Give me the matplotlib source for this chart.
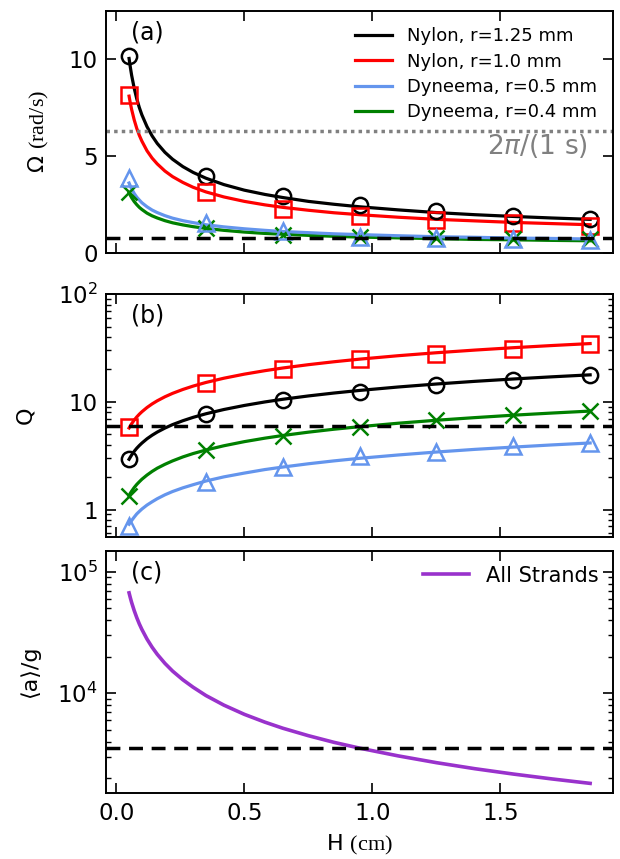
import numpy as np
import matplotlib
matplotlib.use('Agg')
import matplotlib.pyplot as plt

plt.rcParams['font.family'] = ['DejaVu Sans', 'Noto Sans', 'Noto Sans CJK SC']
plt.rcParams['mathtext.fontset'] = 'custom'
plt.rcParams['mathtext.rm'] = 'Liberation Serif'
plt.rcParams['mathtext.it'] = 'DejaVu Sans:italic'
plt.rcParams['mathtext.bf'] = 'DejaVu Sans:bold'

# measured points
H = [0.05, 0.35, 0.65, 0.95, 1.25, 1.55, 1.85]

omega_ny125 = [10.17, 3.94, 2.94, 2.47, 2.13, 1.87, 1.73]
omega_ny10 = [8.18, 3.11, 2.25, 1.87, 1.66, 1.52, 1.35]
omega_dy05 = [3.86, 1.52, 1.09, 0.83, 0.75, 0.68, 0.64]
omega_dy04 = [3.11, 1.26, 0.92, 0.78, 0.74, 0.70, 0.68]

Q_ny125 = [2.94, 7.7, 10.4, 12.4, 14.3, 16.1, 17.7]
Q_ny10 = [5.8, 15.0, 20.2, 24.8, 28.1, 31.3, 34.3]
Q_dy05 = [0.71, 1.81, 2.46, 3.16, 3.43, 3.90, 4.16]
Q_dy04 = [1.34, 3.56, 4.83, 5.86, 6.76, 7.53, 8.26]

# fitted curves
H_fit = [0.05, 0.055, 0.06, 0.07, 0.08, 0.09, 0.10, 0.12, 0.14, 0.16,
         0.19, 0.22, 0.26, 0.30, 0.35, 0.42, 0.5, 0.58, 0.65, 0.75,
         0.85, 0.95, 1.1, 1.25, 1.4, 1.55, 1.7, 1.85]

omega_fit_ny125 = [10.05, 9.59, 9.18, 8.51, 7.96, 7.51, 7.13, 6.52, 6.04, 5.65,
                   5.19, 4.83, 4.45, 4.15, 3.85, 3.52, 3.23, 3.01, 2.85, 2.65,
                   2.50, 2.37, 2.21, 2.07, 1.96, 1.87, 1.79, 1.72]
omega_fit_ny10 = [8.10, 7.73, 7.41, 6.87, 6.43, 6.07, 5.77, 5.27, 4.89, 4.59,
                  4.22, 3.93, 3.63, 3.38, 3.14, 2.88, 2.65, 2.47, 2.34, 2.19,
                  2.06, 1.96, 1.83, 1.72, 1.64, 1.56, 1.50, 1.44]
omega_fit_dy05 = [3.60, 3.44, 3.30, 3.06, 2.87, 2.72, 2.58, 2.37, 2.20, 2.07,
                  1.91, 1.78, 1.65, 1.55, 1.44, 1.33, 1.23, 1.15, 1.09, 1.03,
                  0.97, 0.93, 0.87, 0.82, 0.79, 0.75, 0.73, 0.70]
omega_fit_dy04 = [3.10, 2.96, 2.84, 2.64, 2.48, 2.34, 2.23, 2.04, 1.90, 1.79,
                  1.65, 1.54, 1.43, 1.34, 1.25, 1.15, 1.06, 0.99, 0.95, 0.89,
                  0.84, 0.80, 0.76, 0.72, 0.68, 0.66, 0.63, 0.61]

Q_fit_ny125 = [2.93, 3.07, 3.21, 3.47, 3.71, 3.93, 4.14, 4.54, 4.90, 5.24,
               5.71, 6.15, 6.68, 7.18, 7.75, 8.49, 9.26, 9.98, 10.57, 11.35,
               12.08, 12.77, 13.74, 14.65, 15.51, 16.31, 17.08, 17.82]
Q_fit_ny10 = [5.72, 6.00, 6.26, 6.77, 7.24, 7.68, 8.09, 8.86, 9.57, 10.23,
              11.15, 12.0, 13.04, 14.01, 15.14, 16.58, 18.09, 19.48, 20.63, 22.15,
              23.58, 24.93, 26.83, 28.6, 30.27, 31.85, 33.35, 34.79]
Q_fit_dy05 = [0.73, 0.76, 0.79, 0.85, 0.91, 0.96, 1.01, 1.10, 1.18, 1.26,
              1.37, 1.47, 1.59, 1.70, 1.84, 2.01, 2.18, 2.35, 2.48, 2.66,
              2.83, 2.99, 3.21, 3.42, 3.62, 3.80, 3.98, 4.15]
Q_fit_dy04 = [1.35, 1.42, 1.48, 1.60, 1.71, 1.81, 1.91, 2.09, 2.26, 2.42,
              2.63, 2.83, 3.08, 3.31, 3.57, 3.91, 4.27, 4.60, 4.87, 5.23,
              5.57, 5.88, 6.33, 6.75, 7.14, 7.52, 7.87, 8.21]

accel_all = [67000, 60900, 55800, 47900, 41900, 37200, 33500, 27900, 23900, 20900,
             17600, 15200, 12900, 11200, 9570, 7980, 6700, 5780, 5150, 4470,
             3940, 3530, 3050, 2680, 2390, 2160, 1970, 1810]

omega_thresh = 0.75
omega_1s = 2 * np.pi
Q_thresh = 6.0
accel_thresh = 3530

labels = ['Nylon, r=1.25 mm', 'Nylon, r=1.0 mm', 'Dyneema, r=0.5 mm', 'Dyneema, r=0.4 mm']
colors = ['black', 'red', 'cornflowerblue', 'green']
markers = ['o', 's', '^', 'x']

fig = plt.figure(figsize=(6.2, 8.59), dpi=100)
ax1 = fig.add_axes([0.171, 0.706, 0.818, 0.281])
ax2 = fig.add_axes([0.171, 0.375, 0.818, 0.2825])
ax3 = fig.add_axes([0.171, 0.0765, 0.818, 0.282])

# (a) rotation rate
omega_pts = [omega_ny125, omega_ny10, omega_dy05, omega_dy04]
omega_fits = [omega_fit_ny125, omega_fit_ny10, omega_fit_dy05, omega_fit_dy04]
for i in [0, 1, 3, 2]:
    ax1.plot(H_fit, omega_fits[i], color=colors[i], lw=2.3, label=labels[i])
for i in [0, 1, 3, 2]:
    ax1.plot(H, omega_pts[i], ls='none', marker=markers[i], ms=11, mfc='none',
             mec=colors[i], mew=1.8)
ax1.axhline(omega_thresh, color='black', ls='--', lw=2.5, dashes=(4, 2.5))
ax1.axhline(omega_1s, color='gray', ls=':', lw=2.5, dashes=(1, 1.2))
ax1.text(1.84, 5.5, r'2$\pi$/(1 s)', color='gray', fontsize=19, ha='right', va='center')
h, l = ax1.get_legend_handles_labels()
order = [0, 1, 3, 2]
ax1.legend([h[j] for j in order], [l[j] for j in order], loc='upper right',
           frameon=False, fontsize=13, handlelength=2.1, labelspacing=0.4,
           borderaxespad=0.5)
ax1.set_ylim(0, 12.5)
ax1.set_yticks([0, 5, 10])
ax1.set_ylabel(r'Ω $\mathrm{(rad/s)}$', fontsize=16)
ax1.yaxis.set_label_coords(-0.108, 0.5)
ax1.text(0.05, 0.96, '(a)', transform=ax1.transAxes, fontsize=17, va='top')

# (b) quality factor
Q_pts = [Q_ny125, Q_ny10, Q_dy05, Q_dy04]
Q_fits = [Q_fit_ny125, Q_fit_ny10, Q_fit_dy05, Q_fit_dy04]
for i in range(4):
    ax2.plot(H_fit, Q_fits[i], color=colors[i], lw=2.3)
    ax2.plot(H, Q_pts[i], ls='none', marker=markers[i], ms=11, mfc='none',
             mec=colors[i], mew=1.8)
ax2.axhline(Q_thresh, color='black', ls='--', lw=2.5, dashes=(4, 2.5))
ax2.set_yscale('log')
ax2.set_ylim(0.557, 100)
ax2.set_yticks([1, 10, 100], labels=['1', '10', r'$\mathdefault{10^2}$'])
ax2.set_ylabel('Q', fontsize=16)
ax2.yaxis.set_label_coords(-0.14, 0.5)
ax2.text(0.05, 0.96, '(b)', transform=ax2.transAxes, fontsize=17, va='top')

# (c) mean acceleration
ax3.plot(H_fit, accel_all, color='darkorchid', lw=2.6, label='All Strands')
ax3.axhline(accel_thresh, color='black', ls='--', lw=2.5, dashes=(4, 2.5))
ax3.set_yscale('log')
ax3.set_ylim(1500, 1.48e5)
ax3.legend(loc='upper right', frameon=False, fontsize=15, handlelength=2.2,
           borderaxespad=0.3)
ax3.set_ylabel('⟨a⟩/g', fontsize=16)
ax3.yaxis.set_label_coords(-0.13, 0.5)
ax3.set_xlabel(r'H $\mathrm{(cm)}$', fontsize=16)
ax3.xaxis.set_label_coords(0.5, -0.165)
ax3.text(0.05, 0.96, '(c)', transform=ax3.transAxes, fontsize=17, va='top')

for ax in [ax1, ax2, ax3]:
    ax.set_xlim(-0.04, 1.94)
    ax.set_xticks([0.0, 0.5, 1.0, 1.5])
    ax.tick_params(which='both', direction='in', top=True, right=True,
                   labelsize=16.5, pad=6)
    ax.tick_params(which='major', length=7, width=1.2)
    ax.tick_params(which='minor', length=3.5, width=1.0)
    for s in ax.spines.values():
        s.set_linewidth(1.4)
ax1.tick_params(labelbottom=False)
ax2.tick_params(labelbottom=False)
ax3.set_xticklabels(['0.0', '0.5', '1.0', '1.5'])

fig.savefig('out.png', dpi=100)
